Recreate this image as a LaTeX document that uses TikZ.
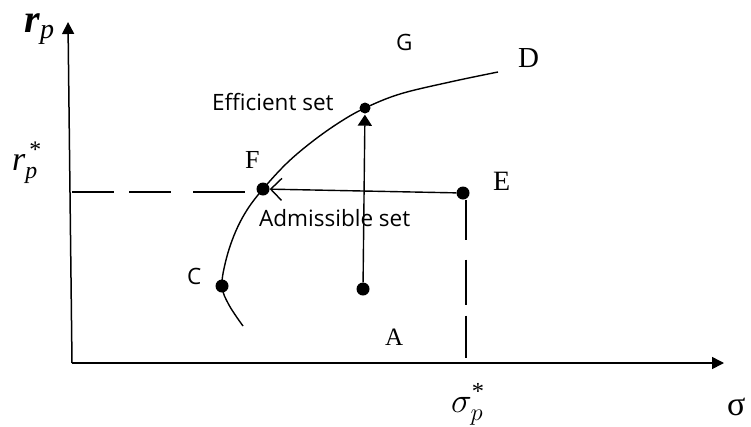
\RequirePackage{fix-cm}
\documentclass[tikz,border=0pt]{standalone}
\usepackage{amsmath}
\usepackage{fontspec}
\setmainfont{Liberation Serif}
\newfontfamily\sansf{Open Sans}
\usetikzlibrary{arrows.meta}
\tikzset{
  axis/.style={line width=1.5pt, -{Triangle[length=12pt,width=12pt]}},
  dot/.style={circle, fill=black, inner sep=0pt, minimum size=#1},
  dot/.default=13pt,
  slabel/.style={font=\sansf\fontsize{22.5}{24}\selectfont, inner sep=0pt, anchor=base west},
  tlabel/.style={font=\fontsize{#1}{#1}\selectfont, inner sep=0pt, anchor=base west},
  curvestyle/.style={line width=1.4pt},
  guide/.style={line width=1.4pt}
}
\begin{document}
\begin{tikzpicture}[x=1pt,y=-1pt]
\useasboundingbox (0,0) rectangle (751,426);
% axes
\coordinate (O) at (72,363);
\coordinate (Ytop) at (68,22);
\coordinate (Xend) at (724,363);
\draw[axis] (O) -- (Ytop);
\draw[axis] (O) -- (Xend);
% frontier curve
\draw[curvestyle] plot[smooth, tension=0.6] coordinates {(243,326) (229,305) (222,286) (226,260) (235,233) (247,210) (263,189) (287,163) (313,141) (340,122) (365,108) (400,94) (450,82) (498,72)};
% points
\node[dot] (C) at (222,286) {};
\node[dot] (F) at (263,189) {};
\node[dot=11pt] (Eff) at (365,108) {};
\node[dot] (A) at (363,289) {};
\node[dot] (E) at (463,193) {};
% guides
\coordinate (Ry) at (72,192);
\coordinate (Rf) at (245,192);
\coordinate (Sx) at (466,358);
\draw[guide, dash pattern=on 42pt off 15pt on 42pt off 22pt on 52pt off 20pt] (Ry) -- (Rf);
\draw[guide, dash pattern=on 40pt off 20pt on 45pt off 11pt on 45pt off 20pt] (E.south -| Sx) -- (Sx);
% arrows
\draw[guide, -{Straight Barb[length=11pt,width=22pt,line width=1.4pt]}] (E) -- (F);
\draw[guide, -{Triangle[length=11pt,width=14pt]}, shorten >=1pt] (A) -- (Eff);
% labels
\node[tlabel=40] (rp) at (24,32) {$\textbf{\textit{r}}_{\textit{p}}$};
\node[tlabel=34] (rps) at (12,170) {$\textit{r}_{\textit{p}}^{\,\text{*}}$};
\node[tlabel=35] (sps) at (451,412) {$\sigma_p^{\text{*}}$};
\node[tlabel=34] (sig) at (727,415) {σ};
\node[slabel] (Leff) at (212,110) {Efficient set};
\node[slabel] (Ladm) at (259,226) {Admissible set};
\node[slabel] (LC) at (187,284) {C};
\node[slabel] (LG) at (396,50) {G};
\node[tlabel=26] (LF) at (245,168) {F};
\node[tlabel=28] (LE) at (493,190) {E};
\node[tlabel=25] (LA) at (385,345) {A};
\node[tlabel=29] (LD) at (518,67) {D};
\end{tikzpicture}
\end{document}
